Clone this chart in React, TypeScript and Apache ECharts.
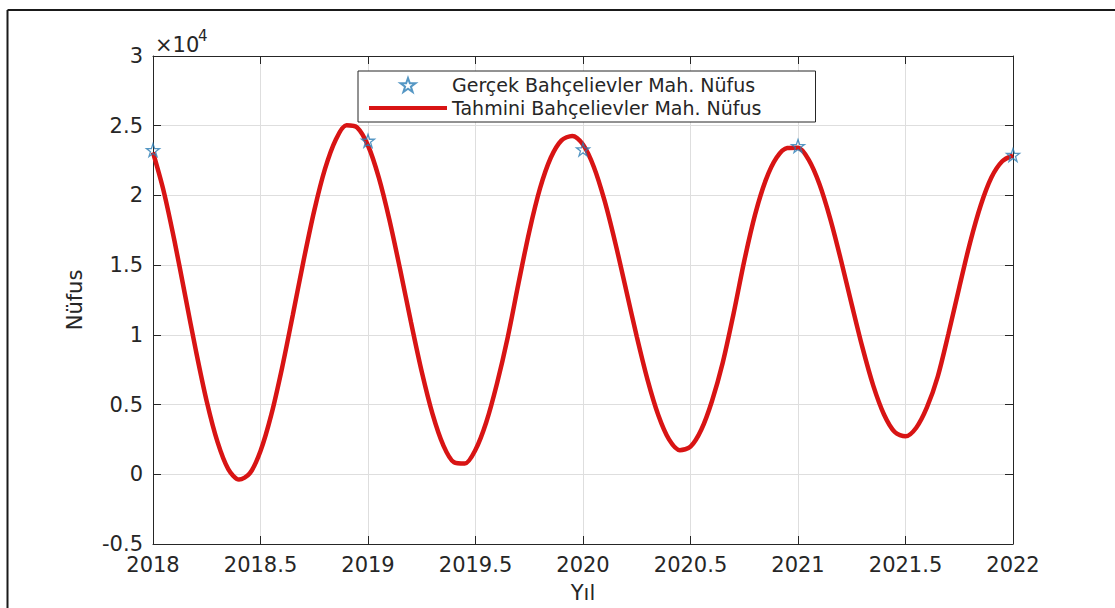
import React, { useEffect, useRef } from "react";
import * as echarts from "echarts";

// Tahmini (fitted) curve, every 0.05 year
const fitYears = [
  2018.0, 2018.05, 2018.1, 2018.15, 2018.2, 2018.25, 2018.3, 2018.35, 2018.4, 2018.45,
  2018.5, 2018.55, 2018.6, 2018.65, 2018.7, 2018.75, 2018.8, 2018.85, 2018.9, 2018.95,
  2019.0, 2019.05, 2019.1, 2019.15, 2019.2, 2019.25, 2019.3, 2019.35, 2019.4, 2019.45,
  2019.5, 2019.55, 2019.6, 2019.65, 2019.7, 2019.75, 2019.8, 2019.85, 2019.9, 2019.95,
  2020.0, 2020.05, 2020.1, 2020.15, 2020.2, 2020.25, 2020.3, 2020.35, 2020.4, 2020.45,
  2020.5, 2020.55, 2020.6, 2020.65, 2020.7, 2020.75, 2020.8, 2020.85, 2020.9, 2020.95,
  2021.0, 2021.05, 2021.1, 2021.15, 2021.2, 2021.25, 2021.3, 2021.35, 2021.4, 2021.45,
  2021.5, 2021.55, 2021.6, 2021.65, 2021.7, 2021.75, 2021.8, 2021.85, 2021.9, 2021.95,
  2022.0,
];
const fitValues = [
  23080, 20280, 16730, 12790, 8830, 5220, 2320, 370, -380, 60,
  1670, 4260, 7610, 11410, 15300, 18910, 21900, 24000, 25030, 24870,
  23580, 21290, 18220, 14650, 10900, 7350, 4330, 2090, 860, 770,
  1760, 3730, 6510, 9830, 13700, 17400, 20500, 22700, 23950, 24270,
  23650, 22060, 19640, 16610, 13260, 9880, 6790, 4250, 2500, 1730,
  1980, 3190, 5260, 8010, 11500, 15300, 18600, 21100, 22700, 23400,
  23420, 22550, 20800, 18320, 15350, 12170, 9080, 6360, 4290, 3030,
  2720, 3340, 4810, 7010, 10100, 13400, 16600, 19300, 21300, 22450,
  22870,
];

// Gerçek (observed) values
const obsYears = [2018, 2019, 2020, 2021, 2022];
const obsValues = [23250, 23920, 23300, 23540, 22900];

const seriesNames = ["Gerçek Bahçelievler Mah. Nüfus", "Tahmini Bahçelievler Mah. Nüfus"];

const STAR =
  "path://M50,2 L61.8,36.2 L97.6,36.2 L68.5,57.4 L79.4,91.6 L50,70.4 L20.6,91.6 L31.5,57.4 L2.4,36.2 L38.2,36.2 Z";

const axisColor = "#262626";
const font = "DejaVu Sans";
const red = "#d81414";

export default function App() {
  const ref = useRef<HTMLDivElement>(null);
  useEffect(() => {
    if (!ref.current) return;
    const chart = echarts.init(ref.current, undefined, { renderer: "svg" });
    const baseAxis = {
      axisLine: { show: true, onZero: false, lineStyle: { color: axisColor, width: 1 } },
      axisTick: { show: true, inside: true, length: 8, lineStyle: { color: axisColor, width: 1 } },
    };
    chart.setOption({
      animation: false,
      backgroundColor: "#ffffff",
      grid: { left: 153, top: 56, width: 860, height: 488 },
      legend: {
        orient: "vertical",
        left: 358,
        top: 71,
        data: [
          { name: seriesNames[0] },
          { name: seriesNames[1], itemStyle: { opacity: 0 }, lineStyle: { width: 4, color: red } },
        ],
        itemWidth: 78,
        itemHeight: 14,
        itemGap: 3,
        padding: [4, 54, 4, 9],
        borderColor: axisColor,
        borderWidth: 1,
        backgroundColor: "#ffffff",
        textStyle: { fontFamily: font, fontSize: 19, color: axisColor, lineHeight: 20 },
      },
      xAxis: [
        {
          type: "value",
          min: 2018,
          max: 2022,
          interval: 0.5,
          position: "bottom",
          ...baseAxis,
          splitLine: { show: true, lineStyle: { color: "#dedede", width: 1 } },
          axisLabel: {
            color: axisColor,
            fontFamily: font,
            fontSize: 21,
            margin: 10,
            formatter: (v: number) => String(v),
          },
          name: "Yıl",
          nameLocation: "middle",
          nameGap: 38,
          nameTextStyle: { color: axisColor, fontFamily: font, fontSize: 21 },
        },
        {
          type: "value",
          min: 2018,
          max: 2022,
          interval: 0.5,
          position: "top",
          ...baseAxis,
          splitLine: { show: false },
          axisLabel: { show: false },
        },
      ],
      yAxis: [
        {
          type: "value",
          min: -5000,
          max: 30000,
          interval: 5000,
          position: "left",
          ...baseAxis,
          splitLine: { show: true, lineStyle: { color: "#dedede", width: 1 } },
          axisLabel: {
            color: axisColor,
            fontFamily: font,
            fontSize: 21,
            margin: 10,
            formatter: (v: number) => String(v / 10000),
          },
          name: "Nüfus",
          nameLocation: "middle",
          nameGap: 68,
          nameRotate: 90,
          nameTextStyle: { color: axisColor, fontFamily: font, fontSize: 21 },
        },
        {
          type: "value",
          min: -5000,
          max: 30000,
          interval: 5000,
          position: "right",
          ...baseAxis,
          splitLine: { show: false },
          axisLabel: { show: false },
        },
      ],
      series: [
        {
          name: seriesNames[0],
          type: "scatter",
          data: obsYears.map((x, i) => [x, obsValues[i]]),
          symbol: STAR,
          symbolSize: 13,
          clip: false,
          itemStyle: { color: "rgba(255,255,255,0)", borderColor: "#2a7db5", borderWidth: 1.3 },
          z: 4,
        },
        {
          name: seriesNames[1],
          type: "line",
          data: fitYears.map((x, i) => [x, fitValues[i]]),
          symbol: "none",
          smooth: 0.3,
          lineStyle: { color: red, width: 4.5 },
          itemStyle: { color: red },
          z: 3,
        },
      ],
      graphic: [
        { type: "line", shape: { x1: 7.5, y1: 10, x2: 1115, y2: 10 }, style: { stroke: "#1a1a1a", lineWidth: 2 } },
        { type: "line", shape: { x1: 7.5, y1: 10, x2: 7.5, y2: 608 }, style: { stroke: "#1a1a1a", lineWidth: 2 } },
        {
          type: "text",
          x: 155,
          y: 45,
          style: { text: "×10", fontFamily: font, fontSize: 21, fill: axisColor, verticalAlign: "middle", align: "left" },
        },
        {
          type: "text",
          x: 198,
          y: 36,
          style: { text: "4", fontFamily: font, fontSize: 15, fill: axisColor, verticalAlign: "middle", align: "left" },
        },
      ],
    });
    return () => chart.dispose();
  }, []);
  return (
    <div
      ref={ref}
      style={{ position: "absolute", left: 0, top: 0, width: 1115, height: 608, background: "#fff" }}
    />
  );
}
